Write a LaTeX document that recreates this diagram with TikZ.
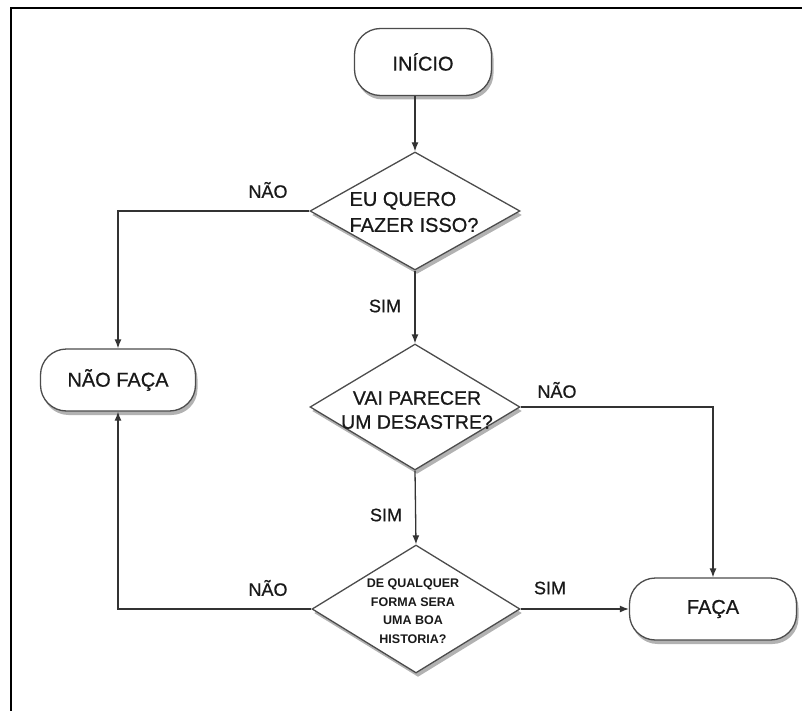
\documentclass[tikz,border=0pt]{standalone}
\usepackage{fontspec}
\setmainfont{Liberation Sans}
\newfontfamily\medfont[FakeBold=0.7]{Liberation Sans}
\usetikzlibrary{shapes.geometric,arrows.meta,shadows}
\tikzset{
  term/.style={draw=black!70, line width=1.3pt, fill=white, rounded corners=26pt,
    inner sep=0pt, font=\medfont\fontsize{20}{24}\selectfont, text=black!90,
    drop shadow={shadow xshift=2pt, shadow yshift=-4pt, opacity=0.3, fill=black}},
  dia/.style={draw=black!70, line width=1.3pt, fill=white, diamond, inner sep=0pt,
    drop shadow={shadow xshift=2pt, shadow yshift=-4pt, opacity=0.3, fill=black}},
  dtext/.style={text=black!90, inner sep=0pt},
  conn/.style={draw=black!80, line width=1.3pt, -{Latex[length=9pt,width=7pt]}},
  lbl/.style={font=\medfont\fontsize{18}{20}\selectfont, text=black!90}
}
\begin{document}
\begin{tikzpicture}[x=1pt,y=-1pt]
\useasboundingbox (0,0) rectangle (802,711);
\fill[white] (0,0) rectangle (802,711);
\draw[line width=2.2pt, line cap=rect] (11,711) -- (11,8) -- (802,8);

\node[term, minimum width=137pt, minimum height=67pt] (ini) at (423,62) {INÍCIO};
\node[term, minimum width=155pt, minimum height=62pt] (nf) at (118,380) {NÃO FAÇA};
\node[term, minimum width=167pt, minimum height=62pt] (fa) at (713,609) {FAÇA};

\node[dia, minimum width=210pt, minimum height=118pt] (d1) at (415,211) {};
\node[dtext, align=left, font=\medfont\fontsize{20}{26}\selectfont] (t1) at (414,212) {EU QUERO\\FAZER ISSO?};

\node[dia, minimum width=210pt, minimum height=126pt] (d2) at (415,407) {};
\node[dtext, align=center, font=\medfont\fontsize{19.5}{24}\selectfont] (t2) at (417,410) {VAI PARECER\\UM DESASTRE?};

\node[dia, minimum width=208pt, minimum height=128pt] (d3) at (416,609) {};
\node[dtext, align=center, font=\bfseries\fontsize{12.5}{18.5}\selectfont] (t3) at (413,611) {DE QUALQUER\\FORMA SERA\\UMA BOA\\HISTORIA?};

\draw[conn] (ini.south -| d1.north) -- (d1.north);
\draw[conn] (d1.west) -| (nf.north);
\draw[conn] (d1.south) -- (d2.north);
\draw[conn] (d2.east) -| (fa.north);
\draw[conn] (d2.south) -- (d3.north);
\draw[conn] (d3.east) -- (d3.east -| fa.west);
\draw[conn] (d3.west) -| (nf.south);

\node[lbl] (l1) at (268,190) {NÃO};
\node[lbl] (l2) at (385,306) {SIM};
\node[lbl] (l3) at (557,390) {NÃO};
\node[lbl] (l4) at (386,515) {SIM};
\node[lbl] (l5) at (268,588) {NÃO};
\node[lbl] (l6) at (550,588) {SIM};
\end{tikzpicture}
\end{document}
